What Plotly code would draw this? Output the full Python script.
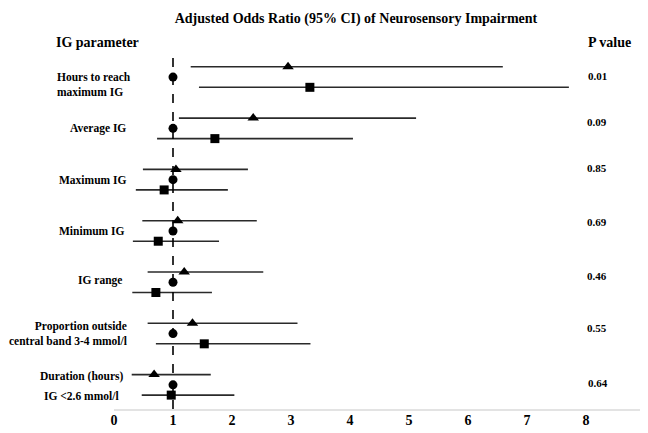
import plotly.graph_objects as go

# Data
params = ["Hours to reach<br>maximum IG", "Average IG", "Maximum IG", "Minimum IG",
          "IG range", "Proportion outside<br>central band 3-4 mmol/l", "Duration (hours)"]
extra_label = "IG <2.6 mmol/l"
p_values = ["0.01", "0.09", "0.85", "0.69", "0.46", "0.55", "0.64"]

tri_or = [2.95, 2.36, 1.05, 1.08, 1.19, 1.33, 0.68]
tri_lo = [1.30, 1.10, 0.49, 0.48, 0.57, 0.57, 0.30]
tri_hi = [6.59, 5.12, 2.27, 2.42, 2.53, 3.11, 1.64]

sq_or = [3.32, 1.71, 0.85, 0.75, 0.71, 1.53, 0.97]
sq_lo = [1.44, 0.73, 0.37, 0.32, 0.31, 0.71, 0.47]
sq_hi = [7.71, 4.05, 1.93, 1.78, 1.66, 3.33, 2.04]

ref_or = [1, 1, 1, 1, 1, 1, 1]
x_ticks = [0, 1, 2, 3, 4, 5, 6, 7, 8, 9]

rows = list(range(len(params)))
off = 0.2
font = "Liberation Serif, Times New Roman, serif"

# the page body has an 8px margin; work in window pixels and subtract it
BODY = 8
W, H = 648 - BODY, 433 - BODY
pl, pr, pt, pb = 114 - BODY, 0, 55 - BODY, 23
pw, ph = W - pl - pr, H - pt - pb
xmax = 9 + 3 / 59.0
def px(x):
    return (x - BODY - pl) / pw
def py(y):
    return (H - pb - (y - BODY)) / ph

fig = go.Figure()

fig.add_trace(go.Scatter(
    x=tri_or, y=[r - off for r in rows], mode="markers",
    marker=dict(symbol="triangle-up", size=10, color="black"),
    error_x=dict(type="data", symmetric=False,
                 array=[h - o for h, o in zip(tri_hi, tri_or)],
                 arrayminus=[o - l for o, l in zip(tri_or, tri_lo)],
                 color="#2a2a2a", thickness=1.6, width=0),
    showlegend=False, cliponaxis=False))

fig.add_trace(go.Scatter(
    x=sq_or, y=[r + off for r in rows], mode="markers",
    marker=dict(symbol="square", size=9, color="black"),
    error_x=dict(type="data", symmetric=False,
                 array=[h - o for h, o in zip(sq_hi, sq_or)],
                 arrayminus=[o - l for o, l in zip(sq_or, sq_lo)],
                 color="#2a2a2a", thickness=1.6, width=0),
    showlegend=False, cliponaxis=False))

fig.add_trace(go.Scatter(
    x=ref_or, y=rows, mode="markers",
    marker=dict(symbol="circle", size=9, color="black"),
    showlegend=False, cliponaxis=False))

# reference dashed line at OR = 1
fig.add_shape(type="line", x0=1, x1=1, y0=-0.37, y1=6.49, xref="x", yref="y",
              line=dict(color="black", width=1.6, dash="dash"))

# left labels
label_dy = [0.15, 0.0, 0.0, 0.0, -0.03, 0.0, -0.17]
label_x = [133, 128, 128, 127, 124, 129, 126]
for i, (lab, dy, lx) in enumerate(zip(params, label_dy, label_x)):
    fig.add_annotation(x=px(lx), y=i + dy, xref="paper", yref="y",
                       text="<b>" + lab + "</b>", showarrow=False,
                       xanchor="right",
                       align="left" if i == 0 else "right",
                       font=dict(family=font, size=11.5, color="black"))
fig.add_annotation(x=px(121), y=6 + 0.21, xref="paper", yref="y",
                   text="<b>" + extra_label + "</b>", showarrow=False,
                   xanchor="right",
                   font=dict(family=font, size=11.5, color="black"))

# p values
p_dy = [-0.02, -0.12, -0.23, -0.18, -0.12, -0.10, -0.04]
p_x = [609, 609, 609, 609, 609, 609, 610]
for i, (p, dy, xx) in enumerate(zip(p_values, p_dy, p_x)):
    fig.add_annotation(x=px(xx), y=i + dy, xref="paper", yref="y",
                       text="<b>" + p + "</b>", showarrow=False,
                       font=dict(family=font, size=11, color="black"))

fig.update_layout(
    width=W, height=H,
    margin=dict(l=pl, r=pr, t=pt, b=pb, autoexpand=False),
    paper_bgcolor="white", plot_bgcolor="white",
    title=dict(text="<b>Adjusted Odds Ratio (95% CI) of Neurosensory Impairment</b>",
               x=(356 - BODY) / W, xanchor="center", y=1 - (18 - BODY) / H, yanchor="middle",
               font=dict(family=font, size=14, color="black")),
    xaxis=dict(range=[0, xmax], tickvals=x_ticks, ticktext=["<b>%d</b>" % t for t in x_ticks],
               showgrid=False, zeroline=False, showline=False,
               ticks="", automargin=False, ticklabeloverflow="allow",
               tickfont=dict(family=font, size=14, color="black")),
    yaxis=dict(range=[6.49, -0.43], showgrid=False, zeroline=False, automargin=False,
               showticklabels=False, showline=False),
)

# light grey axis baseline from 0 to about 9
fig.add_shape(type="line", x0=0, x1=9.02, y0=0, y1=0, xref="x", yref="paper",
              line=dict(color="#c8c8c8", width=1.2))

fig.add_annotation(x=px(97), y=py(42), xref="paper", yref="paper",
                   text="<b>IG parameter</b>", showarrow=False,
                   xanchor="center", yanchor="middle",
                   font=dict(family=font, size=14, color="black"))
fig.add_annotation(x=px(609), y=py(42), xref="paper", yref="paper",
                   text="<b>P value</b>", showarrow=False,
                   xanchor="center", yanchor="middle",
                   font=dict(family=font, size=14, color="black"))

fig.write_html("out.html")
